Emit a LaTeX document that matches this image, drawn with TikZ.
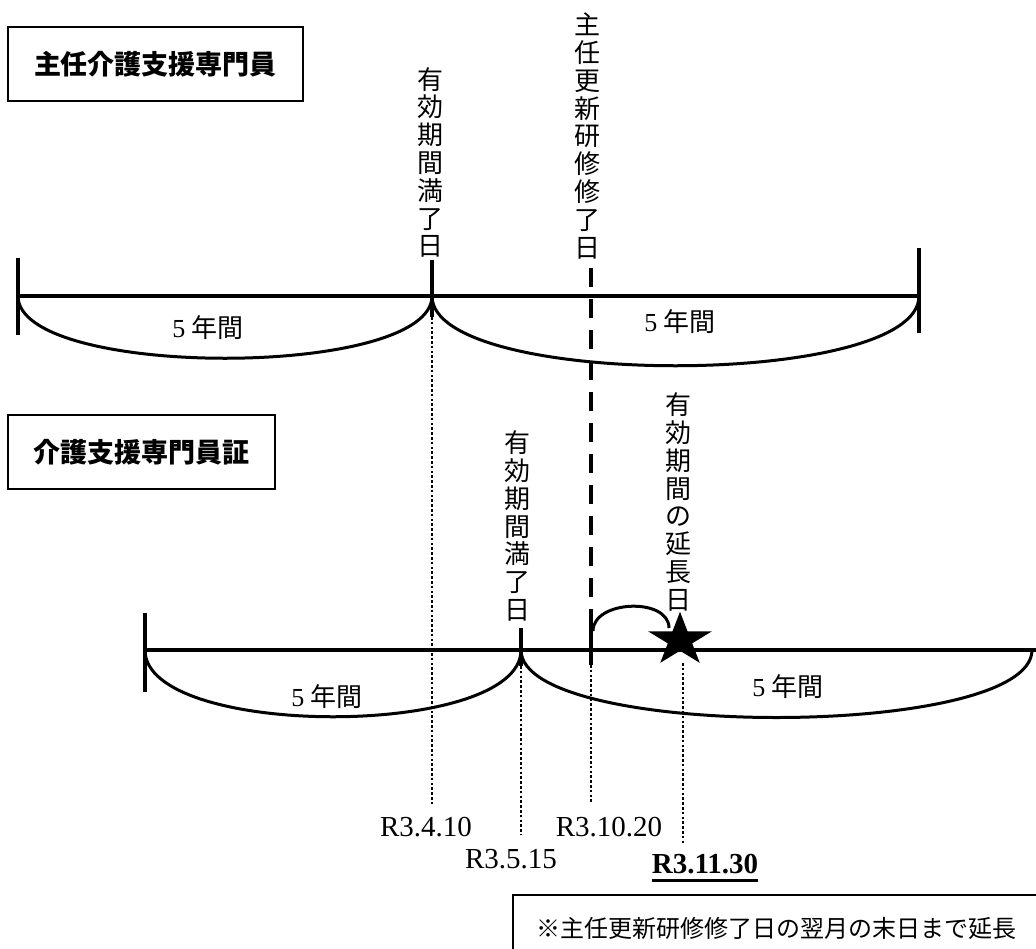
\documentclass[tikz,border=0pt]{standalone}
\usepackage{fontspec}
\usepackage{graphicx}
\setmainfont{Liberation Serif}
\newfontfamily\cjk{Noto Sans CJK JP}
\tikzset{
  tl/.style={line width=4pt},
  bowl/.style={line width=3pt},
  dotl/.style={line width=2.6pt, dash pattern=on 2.6pt off 2.2pt},
  dashl/.style={line width=4pt, dash pattern=on 19pt off 12pt},
  titlebox/.style={draw, line width=1.3pt, inner sep=0pt, font=\cjk\bfseries\fontsize{27}{27}\selectfont},
  vlab/.style={inner sep=0pt, align=center, font=\cjk\fontsize{26}{27.8}\selectfont},
  yrs/.style={inner sep=0pt, font=\fontsize{26}{26}\selectfont},
  datel/.style={inner sep=0pt, font=\fontsize{29}{29}\selectfont},
  notel/.style={inner sep=0pt, font=\cjk\fontsize{24}{24}\selectfont},
}
\begin{document}
\begin{tikzpicture}[x=1pt,y=-1pt]
\useasboundingbox (0,0) rectangle (1036,948);
% titles
\node[titlebox, minimum width=295pt, minimum height=74pt] (title1) at (155.5,64) {主任介護支援専門員};
\node[titlebox, minimum width=267pt, minimum height=74pt] (title2) at (141.5,452) {介護支援専門員証};
% vertical labels
\node[vlab] (v1) at (430,162.5) {有\\効\\期\\間\\満\\了\\日};
\node[vlab] (v2) at (587,136) {主\\任\\更\\新\\研\\修\\修\\了\\日};
\node[vlab] (v3) at (517,526) {有\\効\\期\\間\\満\\了\\日};
\node[vlab] (v4) at (678,502) {有\\効\\期\\間\\の\\延\\長\\日};
% coordinates
\coordinate (t0) at (18,296);
\coordinate (tA) at (432,296);
\coordinate (t1) at (919,296);
\coordinate (b0) at (145,650);
\coordinate (bA) at (521,650);
\coordinate (b1) at (1036,650);
\coordinate (bE) at (1032,650);
% top timeline
\draw[tl] (t0) -- (t1);
\draw[tl] (18,258) coordinate (tl0a) -- (18,335) coordinate (tl0b);
\draw[tl] (919,248) coordinate (tl1a) -- (919,333) coordinate (tl1b);
\draw[tl] (432,260) coordinate (tAa) -- (432,317) coordinate (tAb);
\draw[bowl] (t0) .. controls +(0,83) and +(0,83) .. (tA);
\draw[bowl] (tA) .. controls +(0,93) and +(0,93) .. (t1);
% dashed line of renewal
\coordinate (dsA) at (591,268);
\coordinate (dsB) at (591,613);
\coordinate (dsC) at (591,665);
\coordinate (dsD) at (591,802);
\draw[dashl] (dsA) -- (dsB);
\draw[tl] (dsB) -- (dsC);
\draw[dotl] (dsC) -- (dsD);
% bottom timeline
\draw[tl] (b0) -- (b1);
\draw[tl] (145,613) coordinate (bl0a) -- (145,692) coordinate (bl0b);
\draw[tl] (521,628) coordinate (bAa) -- (521,666) coordinate (bAb);
\draw[bowl] (b0) .. controls +(0,89) and +(0,89) .. (bA);
\draw[bowl] (bA) .. controls +(0,90) and +(0,90) .. (bE);
% star
\coordinate (starc) at (680,640);
\fill (680,611.8) -- (672.46,631.29) -- (648.04,631.29) -- (667.80,643.33) -- (660.25,662.81)
  -- (680,650.77) -- (699.75,662.81) -- (692.20,643.33) -- (711.96,631.29) -- (687.54,631.29) -- cycle;
\coordinate (dc) at (593,631);
\coordinate (sc) at (669,628);
\draw[bowl] (dc) .. controls +(0,-31) and +(0,-31) .. (sc);
% dotted drops
\coordinate (dA1) at (432,805);
\coordinate (dB1) at (521,835);
\coordinate (sD0) at (683,663);
\coordinate (sD1) at (683,845);
\draw[dotl] (tAb) -- (dA1);
\draw[dotl] (bAb) -- (dB1);
\draw[dotl] (sD0) -- (sD1);
% period labels
\node[yrs] (y1) at (208,328) {5 {\cjk 年間}};
\node[yrs] (y2) at (680,322) {5 {\cjk 年間}};
\node[yrs] (y3) at (327,697) {5 {\cjk 年間}};
\node[yrs] (y4) at (788,687) {5 {\cjk 年間}};
% dates
\node[datel] (d1) at (426,827) {R3.4.10};
\node[datel] (d2) at (609,827) {R3.10.20};
\node[datel] (d3) at (511,859) {R3.5.15};
\node[datel, font=\bfseries\fontsize{29}{29}\selectfont] (d4) at (705,864) {R3.11.30};
\draw[line width=2.8pt] ([yshift=-7pt]d4.base west) -- ([yshift=-7pt]d4.base east);
% note
\draw[line width=1.3pt] (513,895) rectangle (1050,970);
\node[notel] (note) at (776,928) {※主任更新研修修了日の翌月の末日まで延長};
\end{tikzpicture}
\end{document}
